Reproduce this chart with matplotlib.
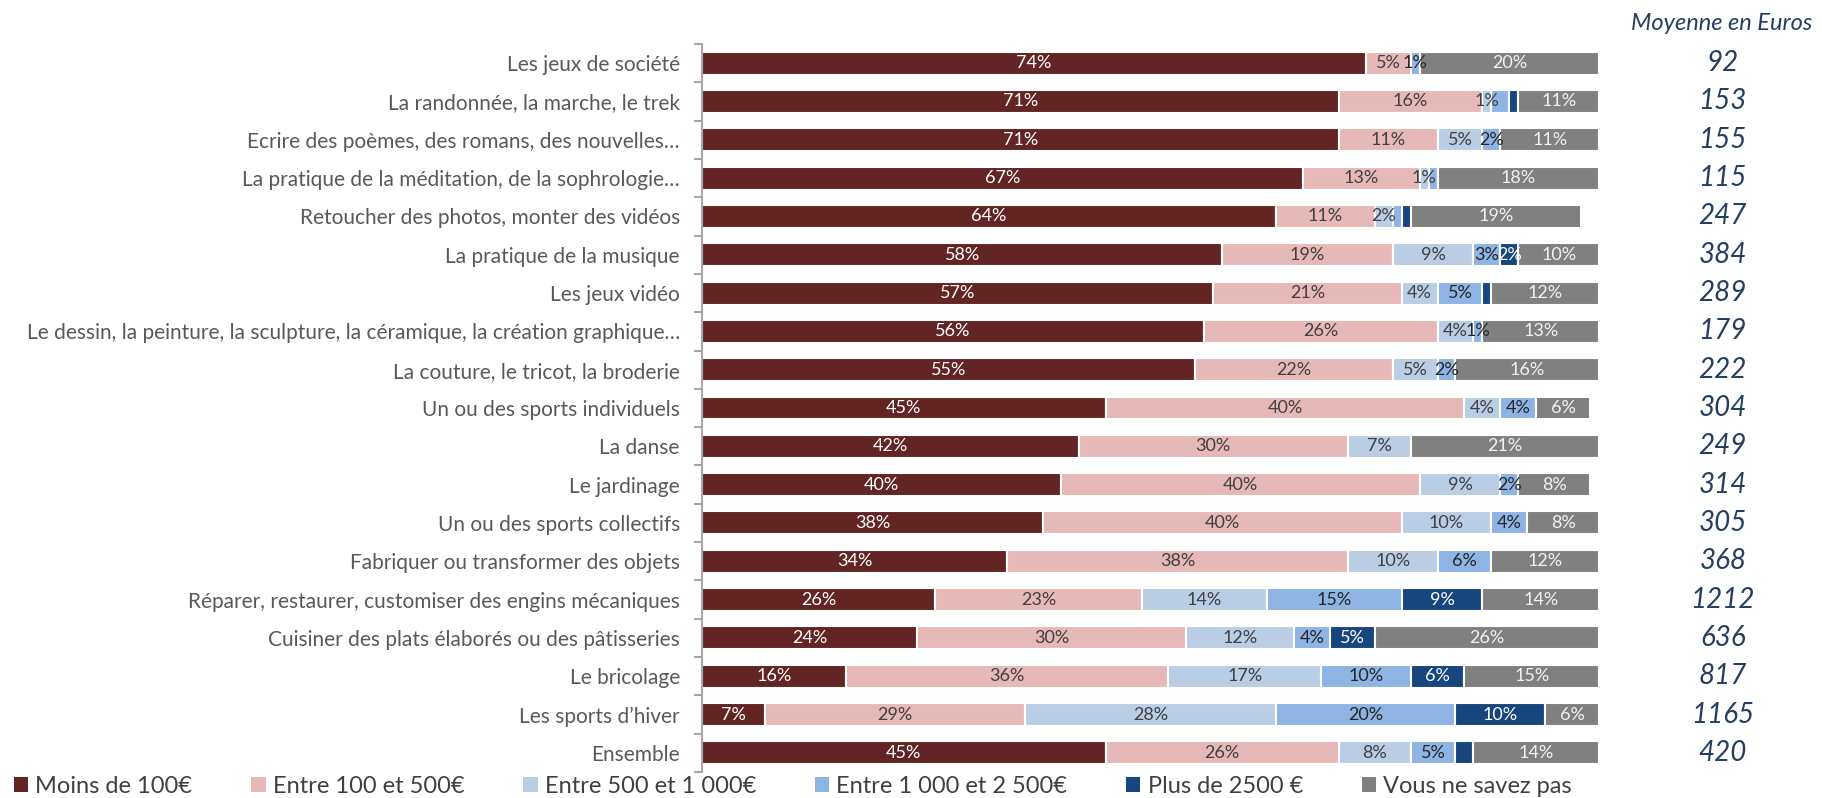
import numpy as np
import matplotlib
matplotlib.use('Agg')
import matplotlib.pyplot as plt
from matplotlib.patches import Patch

plt.rcParams['font.family'] = ['Lato', 'DejaVu Sans']
plt.rcParams['font.weight'] = 'normal'

categories = [
    "Les jeux de société",
    "La randonnée, la marche, le trek",
    "Ecrire des poèmes, des romans, des nouvelles…",
    "La pratique de la méditation, de la sophrologie…",
    "Retoucher des photos, monter des vidéos",
    "La pratique de la musique",
    "Les jeux vidéo",
    "Le dessin, la peinture, la sculpture, la céramique, la création graphique…",
    "La couture, le tricot, la broderie",
    "Un ou des sports individuels",
    "La danse",
    "Le jardinage",
    "Un ou des sports collectifs",
    "Fabriquer ou transformer des objets",
    "Réparer, restaurer, customiser des engins mécaniques",
    "Cuisiner des plats élaborés ou des pâtisseries",
    "Le bricolage",
    "Les sports d’hiver",
    "Ensemble",
]

series_names = ["Moins de 100€", "Entre 100 et 500€", "Entre 500 et 1 000€",
                "Entre 1 000 et 2 500€", "Plus de 2500 €", "Vous ne savez pas"]

# bar widths (%) as drawn
moins_100 = [74, 71, 71, 67, 64, 58, 57, 56, 55, 45, 42, 40, 38, 34, 26, 24, 16, 7, 45]
entre_100_500 = [5, 16, 11, 13, 11, 19, 21, 26, 22, 40, 30, 40, 40, 38, 23, 30, 36, 29, 26]
entre_500_1000 = [0, 1, 5, 1, 2, 9, 4, 4, 5, 4, 7, 9, 10, 10, 14, 12, 17, 28, 8]
entre_1000_2500 = [1, 2, 2, 1, 1, 3, 5, 1, 2, 4, 0, 2, 4, 6, 15, 4, 10, 20, 5]
plus_2500 = [0, 1, 0, 0, 1, 2, 1, 0, 0, 0, 0, 0, 0, 0, 9, 5, 6, 10, 2]
ne_sait_pas = [20, 9, 11, 18, 19, 9, 12, 13, 16, 6, 21, 8, 8, 12, 13, 25, 15, 6, 14]

# labels shown on the bars (0 = no label)
lbl_500_1000 = [0, 1, 5, 1, 2, 9, 4, 4, 5, 4, 7, 9, 10, 10, 14, 12, 17, 28, 8]
lbl_1000_2500 = [1, 0, 2, 0, 0, 3, 5, 1, 2, 4, 0, 2, 4, 6, 15, 4, 10, 20, 5]
lbl_plus_2500 = [0, 0, 0, 0, 0, 2, 0, 0, 0, 0, 0, 0, 0, 0, 9, 5, 6, 10, 0]
lbl_ne_sait_pas = [20, 11, 11, 18, 19, 10, 12, 13, 16, 6, 21, 8, 8, 12, 14, 26, 15, 6, 14]

moyenne = [92, 153, 155, 115, 247, 384, 289, 179, 222, 304, 249, 314, 305, 368, 1212, 636, 817, 1165, 420]

colors = ['#632523', '#E6B9B8', '#B9CDE5', '#8EB4E3', '#17457E', '#808080']
text_colors = ['white', '#404040', '#404040', '#262626', 'white', '#F2F2F2']

values = [moins_100, entre_100_500, entre_500_1000, entre_1000_2500, plus_2500, ne_sait_pas]
labels = [moins_100, entre_100_500, lbl_500_1000, lbl_1000_2500, lbl_plus_2500, lbl_ne_sait_pas]

fig = plt.figure(figsize=(18.22, 7.98), dpi=100)
ax = fig.add_axes([702 / 1822, 26 / 798, 897 / 1822, 728 / 798])

y = np.arange(len(categories))
left = np.zeros(len(categories))
for vals, labs, col, tcol in zip(values, labels, colors, text_colors):
    vals = np.array(vals, dtype=float)
    ax.barh(y, vals, left=left, height=0.6, color=col, edgecolor='white', linewidth=1.5)
    for i, (v, l) in enumerate(zip(vals, labs)):
        if l > 0:
            ax.text(left[i] + v / 2, y[i], f"{l}%", ha='center', va='center',
                    color=tcol, fontsize=13)
    left += vals

ax.set_xlim(0, 100)
ax.set_ylim(len(categories) - 0.5, -0.5)
ax.set_xticks([])
ax.set_yticks(y)
ax.set_yticklabels(categories, fontsize=15, color='#595959')
ax.set_yticks(np.arange(-0.5, len(categories), 1), minor=True)
ax.tick_params(axis='y', which='major', length=0, pad=16)
ax.tick_params(axis='y', which='minor', length=6, width=1.5, color='#A6A6A6')
for s in ['top', 'right', 'bottom']:
    ax.spines[s].set_visible(False)
ax.spines['left'].set_color('#A6A6A6')
ax.spines['left'].set_linewidth(1.5)

# average column on the right
for i, m in enumerate(moyenne):
    ax.text(1.138, y[i], str(m), transform=ax.get_yaxis_transform(), ha='center', va='center',
            fontsize=20, style='italic', color='#243F60')
fig.text(1722 / 1822, 1 - 23 / 798, "Moyenne en Euros", ha='center', va='center',
         fontsize=17, style='italic', color='#243F60')

handles = [Patch(facecolor=c, edgecolor='none') for c in colors]
fig.legend(handles, series_names, loc='lower left', bbox_to_anchor=(0.0, -0.016), ncol=6,
           frameon=False, fontsize=17, handlelength=0.6, handleheight=0.6, handletextpad=0.3,
           columnspacing=2.5, labelcolor='#404040', borderaxespad=0.2)

fig.savefig('out.png', dpi=100)
